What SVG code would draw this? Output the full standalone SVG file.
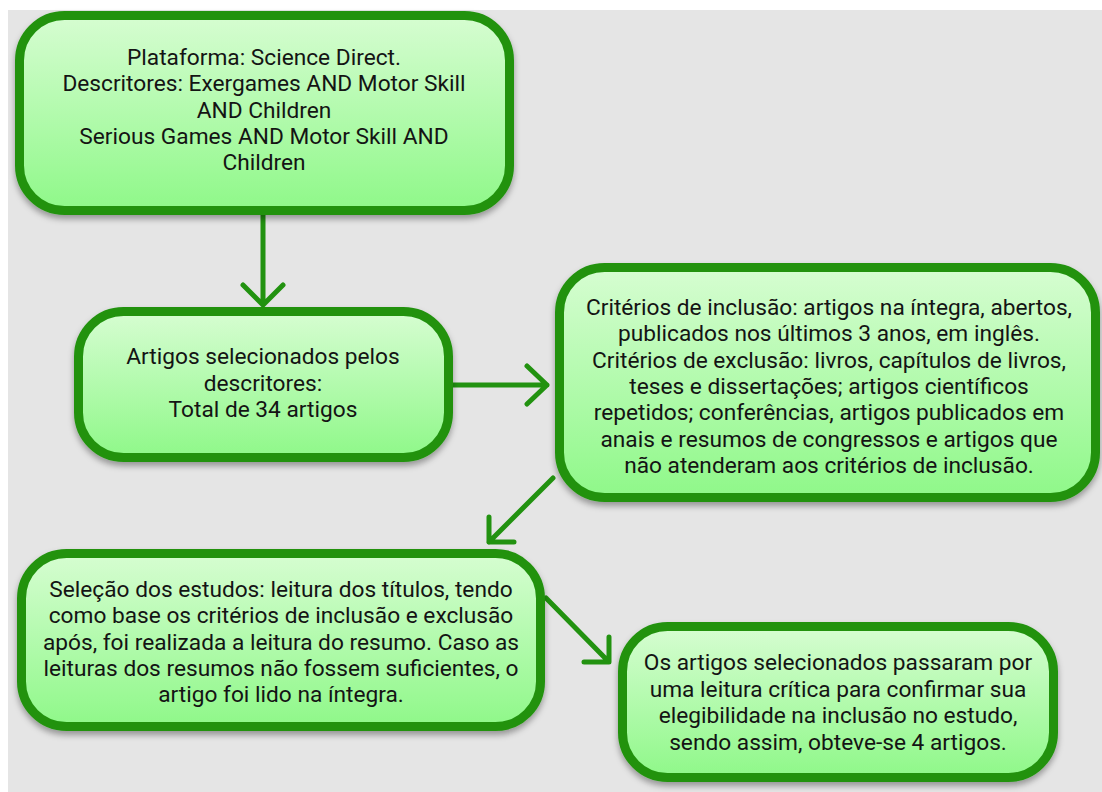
<svg xmlns="http://www.w3.org/2000/svg" width="1102" height="792" viewBox="0 0 1102 792">
<defs>
<linearGradient id="g" x1="0" y1="0" x2="0" y2="1">
<stop offset="0" stop-color="#d6fdd1"/>
<stop offset="1" stop-color="#8ff889"/>
</linearGradient>
<filter id="sh" x="-10%" y="-10%" width="120%" height="130%">
<feDropShadow dx="0" dy="4" stdDeviation="3" flood-color="#000" flood-opacity="0.35"/>
</filter>
<style>
.box{fill:url(#g);stroke:#229210;stroke-width:9;filter:url(#sh)}
.t{font-family:Roboto,"Liberation Sans",sans-serif;font-size:22.7px;fill:#141414;text-anchor:middle}
.c{fill:none;stroke:#229210;stroke-width:5;stroke-linecap:round;stroke-linejoin:round}
</style>
</defs>
<rect x="0" y="0" width="1102" height="792" fill="#ffffff"/>
<rect x="8" y="10" width="1094" height="782" fill="#e5e5e5"/>
<g id="connectors">
<path class="c" d="M263 215 V304 M243 285 L263 305 L283 285"/>
<path class="c" d="M453 385 H547 M527 366 L547 385 L527 404"/>
<path class="c" d="M553 478 L489 542 M489 517 V542 H514"/>
<path class="c" d="M546 598 L608 661 M609 637 V662 H584"/>
</g>
<g id="n1">
<rect class="box" x="19.5" y="15.5" width="490" height="195" rx="45"/>
<text class="t" x="264" y="65">Plataforma: Science Direct.</text>
<text class="t" x="264" y="91">Descritores: Exergames AND Motor Skill</text>
<text class="t" x="264" y="118">AND Children</text>
<text class="t" x="264" y="144">Serious Games AND Motor Skill AND</text>
<text class="t" x="264" y="170">Children</text>
</g>
<g id="n2">
<rect class="box" x="78.5" y="311.5" width="370" height="146" rx="45"/>
<text class="t" x="263" y="364">Artigos selecionados pelos</text>
<text class="t" x="263" y="391">descritores:</text>
<text class="t" x="263" y="417">Total de 34 artigos</text>
</g>
<g id="n3">
<rect class="box" x="559.5" y="267.5" width="536" height="230" rx="45"/>
<text class="t" x="829" y="315">Critérios de inclusão: artigos na íntegra, abertos,</text>
<text class="t" x="829" y="341">publicados nos últimos 3 anos, em inglês.</text>
<text class="t" x="829" y="368">Critérios de exclusão: livros, capítulos de livros,</text>
<text class="t" x="829" y="394">teses e dissertações; artigos científicos</text>
<text class="t" x="829" y="420">repetidos; conferências, artigos publicados em</text>
<text class="t" x="829" y="447">anais e resumos de congressos e artigos que</text>
<text class="t" x="829" y="473">não atenderam aos critérios de inclusão.</text>
</g>
<g id="n4">
<rect class="box" x="21.5" y="553.5" width="519" height="173" rx="45"/>
<text class="t" x="281" y="597">Seleção dos estudos: leitura dos títulos, tendo</text>
<text class="t" x="281" y="623">como base os critérios de inclusão e exclusão</text>
<text class="t" x="281" y="650">após, foi realizada a leitura do resumo. Caso as</text>
<text class="t" x="281" y="676">leituras dos resumos não fossem suficientes, o</text>
<text class="t" x="281" y="702">artigo foi lido na íntegra.</text>
</g>
<g id="n5">
<rect class="box" x="622.5" y="626.5" width="431" height="151" rx="45"/>
<text class="t" x="838" y="670">Os artigos selecionados passaram por</text>
<text class="t" x="838" y="697">uma leitura crítica para confirmar sua</text>
<text class="t" x="838" y="723">elegibilidade na inclusão no estudo,</text>
<text class="t" x="838" y="750">sendo assim, obteve-se 4 artigos.</text>
</g>
</svg>
